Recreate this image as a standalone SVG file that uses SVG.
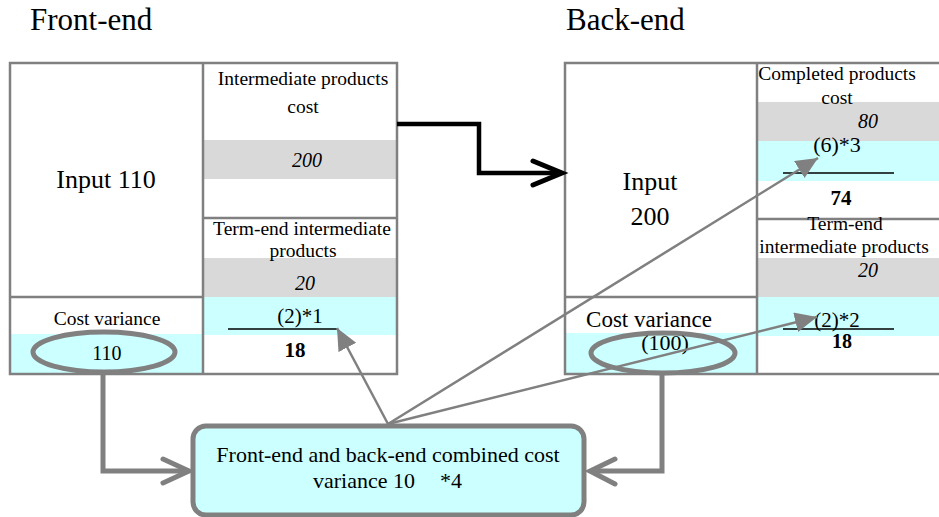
<svg xmlns="http://www.w3.org/2000/svg" width="939" height="517" viewBox="0 0 939 517">
<style>
text{font-family:'Liberation Serif','DejaVu Serif',serif;fill:#000}
.m{text-anchor:middle}
.tb{fill:none;stroke:#808080;stroke-width:2.5}
.gr{fill:#d9d9d9}
.cy{fill:#ccffff}
.frac{stroke:#000;stroke-width:1.5}
.thick{fill:none;stroke:#808080;stroke-width:5;stroke-linecap:round;stroke-linejoin:miter}
.thin{fill:none;stroke:#808080;stroke-width:2.5}
.ell{fill:#ccffff;stroke:#808080;stroke-width:5}
</style>
<defs>
<marker id="tri" markerUnits="userSpaceOnUse" markerWidth="24" markerHeight="22" refX="22" refY="10" orient="auto">
<path d="M0,0 L22,10 L0,20 z" fill="#808080"/>
</marker>
</defs>
<rect width="939" height="517" fill="#fff"/>
<g font-family="Liberation Serif, DejaVu Serif, serif">
<text x="30" y="30" font-size="31">Front-end</text>
<text x="566" y="30" font-size="31">Back-end</text>

<g id="front-end">
<rect class="gr" x="203" y="140" width="194" height="39"/>
<rect class="gr" x="203" y="258" width="194" height="39"/>
<rect class="cy" x="203" y="297" width="194" height="38"/>
<rect class="cy" x="10" y="334" width="193" height="40"/>
<rect class="tb" x="10" y="63" width="387" height="311"/>
<line class="tb" x1="203" y1="63" x2="203" y2="374"/>
<line class="tb" x1="10" y1="297" x2="203" y2="297"/>
<line class="tb" x1="203" y1="218" x2="397" y2="218"/>
<line class="frac" x1="228" y1="329" x2="337" y2="329"/>
<ellipse class="ell" cx="104" cy="352" rx="71" ry="20"/>
<text class="m" x="106" y="188" font-size="26">Input 110</text>
<text class="m" x="303" y="85" font-size="19.5">Intermediate products</text>
<text class="m" x="303" y="113" font-size="19.5">cost</text>
<text class="m" x="307" y="167" font-size="20" font-style="italic">200</text>
<text class="m" x="302" y="235" font-size="19.5">Term-end intermediate</text>
<text class="m" x="303" y="257" font-size="19.5">products</text>
<text class="m" x="305" y="290" font-size="20" font-style="italic">20</text>
<text class="m" x="300" y="323" font-size="21">(2)*1</text>
<text class="m" x="295" y="357" font-size="21" font-weight="bold">18</text>
<text class="m" x="107" y="325" font-size="19.5">Cost variance</text>
<text class="m" x="107" y="360" font-size="20">110</text>
</g>

<g id="back-end">
<rect class="gr" x="757" y="102" width="184" height="39"/>
<rect class="cy" x="757" y="141" width="184" height="40"/>
<rect class="gr" x="757" y="258" width="184" height="39"/>
<rect class="cy" x="757" y="297" width="184" height="39"/>
<rect class="cy" x="565" y="333" width="192" height="41"/>
<rect class="tb" x="565" y="63" width="378" height="311"/>
<line class="tb" x1="757" y1="63" x2="757" y2="374"/>
<line class="tb" x1="565" y1="297" x2="757" y2="297"/>
<line class="tb" x1="757" y1="219" x2="941" y2="219"/>
<line class="frac" x1="783" y1="173" x2="894" y2="173"/>
<line class="frac" x1="783" y1="329" x2="894" y2="329"/>
<ellipse class="ell" cx="663" cy="353" rx="72" ry="20"/>
<text class="m" x="650" y="190" font-size="26">Input</text>
<text class="m" x="650" y="225" font-size="26">200</text>
<text class="m" x="837" y="80" font-size="19.5">Completed products</text>
<text class="m" x="837" y="104" font-size="19.5">cost</text>
<text class="m" x="868" y="128" font-size="20" font-style="italic">80</text>
<text class="m" x="837" y="152" font-size="22">(6)*3</text>
<text class="m" x="841" y="205" font-size="21" font-weight="bold">74</text>
<text class="m" x="845" y="230" font-size="19.5">Term-end</text>
<text class="m" x="844" y="253" font-size="19.5">intermediate products</text>
<text class="m" x="868" y="277" font-size="20" font-style="italic">20</text>
<text class="m" x="837" y="327" font-size="21">(2)*2</text>
<text class="m" x="842" y="348" font-size="20" font-weight="bold">18</text>
<text class="m" x="649" y="327" font-size="23">Cost variance</text>
<text class="m" x="665" y="350" font-size="22">(100)</text>
</g>

<g id="combined">
<rect x="193" y="426" width="391" height="89" rx="13" fill="#ccffff" stroke="#808080" stroke-width="5"/>
<text class="m" x="388" y="462" font-size="22">Front-end and back-end combined cost</text>
<text x="313" y="488" font-size="22">variance 10</text>
<text x="440" y="488" font-size="22">*4</text>
</g>
</g>

<g id="connectors">
<polyline points="397,124 479,124 479,173 560,173" fill="none" stroke="#000" stroke-width="4.5"/>
<polyline points="533,161 562,173 533,185" fill="none" stroke="#000" stroke-width="5" stroke-linecap="round" stroke-linejoin="miter"/>
<polyline class="thick" points="103,375 103,471 188,471"/>
<polyline class="thick" points="163,459 189,471 163,483"/>
<polyline class="thick" points="662,375 662,471 592,471"/>
<polyline class="thick" points="615,459 590,471 615,484"/>
<line class="thin" x1="388" y1="424" x2="337" y2="328" marker-end="url(#tri)"/>
<line class="thin" x1="388" y1="424" x2="818" y2="158" marker-end="url(#tri)"/>
<line class="thin" x1="388" y1="424" x2="817" y2="317" marker-end="url(#tri)"/>
</g>
</svg>
